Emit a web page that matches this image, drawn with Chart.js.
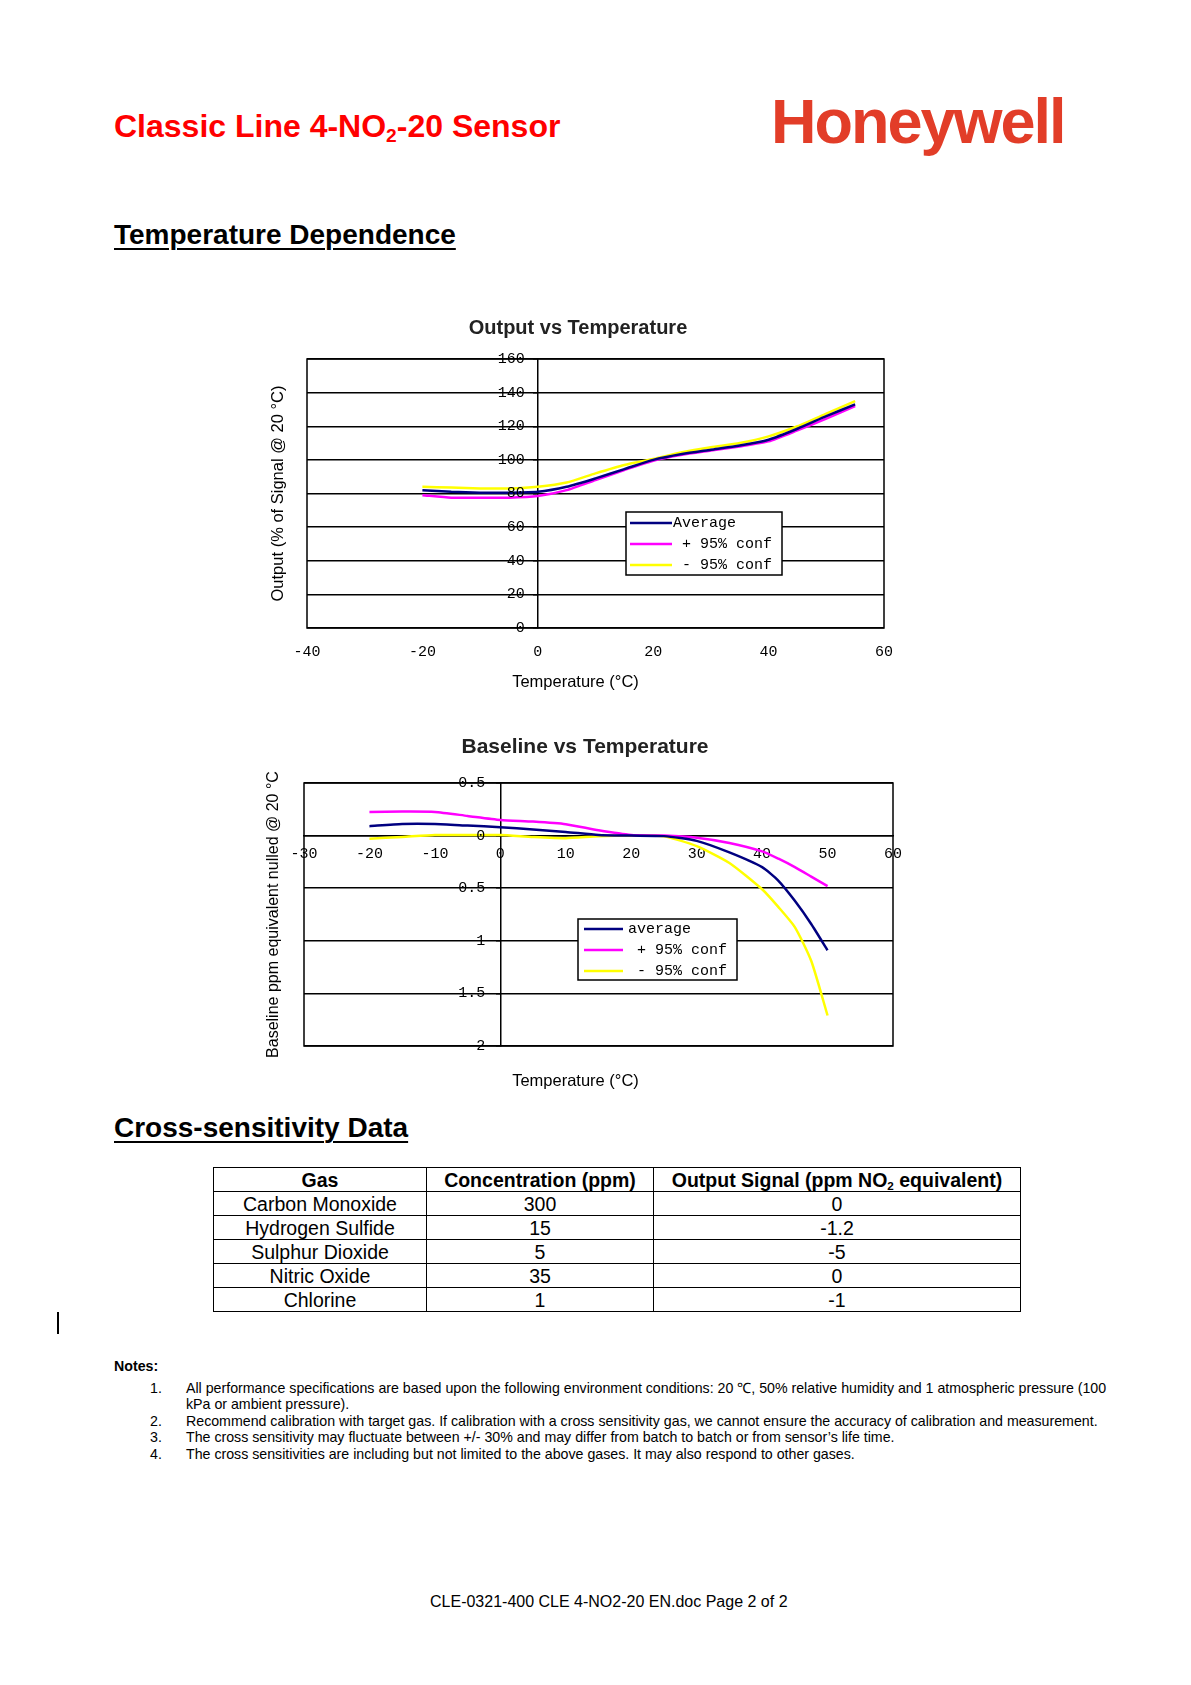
<!DOCTYPE html>
<html>
<head>
<meta charset="utf-8">
<script src="https://cdn.jsdelivr.net/npm/chart.js@4.4.1/dist/chart.umd.min.js"></script>
<style>
  body { margin: 0; background: #fff; font-family: "Liberation Sans", Arial, sans-serif; color: #000; }
  #page { position: relative; width: 1191px; height: 1685px; overflow: hidden; }
  .abs { position: absolute; white-space: nowrap; line-height: 1; }
  .h1 { left: 114px; top: 110px; font-size: 32px; font-weight: bold; color: #f00; }
  .h1 sub, th sub { font-size: 60%; vertical-align: -0.25em; line-height: 0; }
  .logo { left: 771px; top: 90px; font-size: 63px; font-weight: bold; color: #e23d28; letter-spacing: -2px; }
  .sec { left: 114px; font-size: 28px; font-weight: bold; text-decoration: underline; text-decoration-thickness: 2px; text-underline-offset: 4px; }
  .chartbox { position: absolute; }
  table { position: absolute; left: 213px; top: 1167px; border-collapse: collapse; font-size: 19.5px; }
  td, th { border: 1px solid #000; padding: 0; height: 23px; line-height: 22px; text-align: center; }
  th { font-weight: bold; }
  .notes { position: absolute; left: 114px; top: 1358px; font-size: 14.2px; line-height: 16.5px; }
  .notes ol { margin: 5px 0 0 0; padding: 0; list-style: none; }
  .notes li { position: relative; padding-left: 72px; }
  .notes li span { position: absolute; left: 36px; }
  .foot { left: 430px; top: 1594px; font-size: 16px; }
  .caret { position: absolute; left: 57px; top: 1312px; width: 1.5px; height: 22px; background: #000; }
</style>
</head>
<body>
<div id="page">
  <div class="abs h1">Classic Line 4-NO<sub>2</sub>-20 Sensor</div>
  <div class="abs logo">Honeywell</div>
  <div class="abs sec" style="top:221px">Temperature Dependence</div>

  <div class="chartbox" style="left:250px; top:310px; width:660px; height:390px"><canvas id="c1"></canvas></div>
  <div class="chartbox" style="left:250px; top:720px; width:670px; height:385px"><canvas id="c2"></canvas></div>

  <div class="abs sec" style="top:1114px">Cross-sensitivity Data</div>
  <table id="tbl">
    <colgroup><col style="width:213px"><col style="width:227px"><col style="width:367px"></colgroup>
    <thead><tr><th>Gas</th><th>Concentration (ppm)</th><th>Output Signal (ppm NO<sub>2</sub> equivalent)</th></tr></thead>
    <tbody></tbody>
  </table>
  <div class="caret"></div>

  <div class="notes">
    <b>Notes:</b>
    <ol>
      <li><span>1.</span>All performance specifications are based upon the following environment conditions: 20 ℃, 50% relative humidity and 1 atmospheric pressure (100<br>kPa or ambient pressure).</li>
      <li><span>2.</span>Recommend calibration with target gas. If calibration with a cross sensitivity gas, we cannot ensure the accuracy of calibration and measurement.</li>
      <li><span>3.</span>The cross sensitivity may fluctuate between +/- 30% and may differ from batch to batch or from sensor’s life time.</li>
      <li><span>4.</span>The cross sensitivities are including but not limited to the above gases. It may also respond to other gases.</li>
    </ol>
  </div>
  <div class="abs foot">CLE-0321-400 CLE 4-NO2-20 EN.doc Page 2 of 2</div>
</div>

<script>
// Output vs Temperature
const temps1 = [-20, -15, -10, -5, 0, 5, 10, 15, 20, 25, 30, 35, 40, 45, 50, 55];
const average1 = [82, 81, 80.5, 80.5, 81, 84, 89, 94.5, 100, 103.5, 106, 108.5, 112, 118.5, 126, 133];
const plus1 = [79, 77.5, 77.5, 77.5, 78.5, 82, 88, 94, 99.5, 103, 105.5, 108, 111, 117.5, 124.5, 132];
const minus1 = [84, 83.5, 83, 83, 84, 86.5, 92, 97, 100.5, 104.5, 107.5, 110, 114, 120, 127.5, 135];
const legend1 = ["Average", " + 95% conf", " - 95% conf"];

// Baseline vs Temperature
const temps2 = [-20, -15, -10, -5, 0, 5, 10, 15, 20, 25, 30, 35, 40, 42.5, 45, 47.5, 50];
const average2 = [0.09, 0.11, 0.11, 0.095, 0.08, 0.057, 0.035, 0.006, 0, -0.005, -0.05, -0.16, -0.3, -0.43, -0.62, -0.84, -1.09];
const plus2 = [0.225, 0.228, 0.225, 0.187, 0.149, 0.133, 0.108, 0.05, 0.006, 0, -0.02, -0.07, -0.15, -0.22, -0.3, -0.39, -0.48];
const minus2 = [-0.03, -0.013, 0.006, 0.006, 0.006, -0.013, -0.025, -0.006, 0, -0.006, -0.1, -0.26, -0.51, -0.68, -0.87, -1.19, -1.71];
const legend2 = ["average", " + 95% conf", " - 95% conf"];
const yLabels2 = ["2", "1.5", "1", "0.5", "0", "0.5"];

// Cross-sensitivity
const gases = ["Carbon Monoxide", "Hydrogen Sulfide", "Sulphur Dioxide", "Nitric Oxide", "Chlorine"];
const concentrations = ["300", "15", "5", "35", "1"];
const outputSignals = ["0", "-1.2", "-5", "0", "-1"];

const tbody = document.querySelector("#tbl tbody");
gases.forEach((g, i) => {
  const tr = document.createElement("tr");
  [g, concentrations[i], outputSignals[i]].forEach((t) => {
    const td = document.createElement("td");
    td.textContent = t;
    tr.appendChild(td);
  });
  tbody.appendChild(tr);
});

Chart.defaults.color = "#000";
Chart.defaults.font.family = "'Liberation Sans', Arial, sans-serif";

const mono = { family: "'Liberation Mono', monospace", size: 15 };
const navy = "#000080", magenta = "#ff00ff", yellow = "#ffff00";

const toPoints = (xs, ys) => xs.map((x, i) => ({ x: x, y: ys[i] }));

// box round the plot area
const framePlugin = {
  id: "frame",
  afterDraw(chart) {
    const { ctx, chartArea: a } = chart;
    ctx.save();
    ctx.strokeStyle = "#000";
    ctx.lineWidth = 1.5;
    ctx.strokeRect(a.left, a.top, a.right - a.left, a.bottom - a.top);
    ctx.restore();
  },
};

// y tick labels sitting left of the y axis drawn at x = 0
const innerYLabels = {
  id: "innerYLabels",
  afterDraw(chart, args, opts) {
    const { ctx } = chart;
    const ys = chart.scales.y;
    const axisX = chart.scales.x.getPixelForValue(0);
    ctx.save();
    ctx.font = "15px 'Liberation Mono', monospace";
    ctx.fillStyle = "#000";
    ctx.textAlign = "right";
    ctx.textBaseline = "middle";
    ys.ticks.forEach((t) => {
      ctx.fillText(t.label, axisX - opts.gap, ys.getPixelForValue(t.value));
    });
    ctx.restore();
  },
};

// x axis title, a little left of centre as in the original
const xTitle = {
  id: "xTitle",
  afterDraw(chart, args, opts) {
    const { ctx, chartArea: a } = chart;
    ctx.save();
    ctx.font = "16.5px 'Liberation Sans', Arial, sans-serif";
    ctx.fillStyle = "#000";
    ctx.textAlign = "center";
    ctx.textBaseline = "middle";
    ctx.fillText(opts.text, (a.left + a.right) / 2 + opts.dx, a.bottom + opts.dy);
    ctx.restore();
  },
};

// legend in a box inside the plot
const boxLegend = {
  id: "boxLegend",
  afterDraw(chart, args, opts) {
    const { ctx, chartArea: a } = chart;
    const x = a.left + opts.x;
    const y = a.top + opts.y;
    ctx.save();
    ctx.fillStyle = "#fff";
    ctx.fillRect(x, y, opts.w, opts.h);
    ctx.strokeStyle = "#000";
    ctx.lineWidth = 1.5;
    ctx.strokeRect(x, y, opts.w, opts.h);
    ctx.font = "15px 'Liberation Mono', monospace";
    ctx.textBaseline = "middle";
    chart.data.datasets.forEach((ds, i) => {
      const ry = y + opts.rowTop + i * opts.rowGap;
      ctx.strokeStyle = ds.borderColor;
      ctx.lineWidth = 2.5;
      ctx.beginPath();
      ctx.moveTo(x + opts.s0, ry);
      ctx.lineTo(x + opts.s1, ry);
      ctx.stroke();
      ctx.fillStyle = "#000";
      ctx.fillText(ds.label, x + opts.tx, ry);
    });
    ctx.restore();
  },
};

const titleFont = (size) => ({ size: size, weight: "bold", family: "'Liberation Sans', Arial, sans-serif" });

new Chart(document.getElementById("c1"), {
  type: "line",
  data: {
    datasets: [
      { label: legend1[0], data: toPoints(temps1, average1), borderColor: navy },
      { label: legend1[1], data: toPoints(temps1, plus1), borderColor: magenta },
      { label: legend1[2], data: toPoints(temps1, minus1), borderColor: yellow },
    ],
  },
  options: {
    responsive: true,
    maintainAspectRatio: false,
    animation: false,
    layout: { padding: { left: 22, right: 26, top: 0, bottom: 24 } },
    elements: { point: { radius: 0 }, line: { borderWidth: 2.5, tension: 0.2 } },
    plugins: {
      legend: { display: false },
      tooltip: { enabled: false },
      title: { display: true, text: "Output vs Temperature", font: titleFont(20), color: "#222", padding: { top: 6, bottom: 19 } },
      boxLegend: { x: 319, y: 153, w: 156, h: 63, s0: 4, s1: 46, tx: 47, rowTop: 11, rowGap: 21 },
      innerYLabels: { gap: 13 },
      xTitle: { text: "Temperature (°C)", dx: -20, dy: 54 },
    },
    scales: {
      x: {
        type: "linear", position: "bottom", min: -40, max: 60,
        ticks: { stepSize: 20, padding: 15, font: mono },
        grid: { display: false, drawTicks: false },
        border: { display: false },
      },
      y: {
        type: "linear", position: { x: 0 }, min: 0, max: 160,
        ticks: { stepSize: 20, display: false },
        grid: { color: "#000", lineWidth: 1.5, tickLength: 4 },
        border: { color: "#000", width: 1.5 },
      },
      yT: {
        type: "linear", position: "left", min: 0, max: 1,
        ticks: { display: false },
        grid: { display: false, drawTicks: false },
        border: { display: false },
        title: { display: true, text: "Output (% of Signal @ 20 °C)", font: { size: 16.5 }, padding: { top: -3.9, bottom: 19.1 } },
      },
    },
  },
  plugins: [framePlugin, innerYLabels, xTitle, boxLegend],
});

new Chart(document.getElementById("c2"), {
  type: "line",
  data: {
    datasets: [
      { label: legend2[0], data: toPoints(temps2, average2), borderColor: navy },
      { label: legend2[1], data: toPoints(temps2, plus2), borderColor: magenta },
      { label: legend2[2], data: toPoints(temps2, minus2), borderColor: yellow },
    ],
  },
  options: {
    responsive: true,
    maintainAspectRatio: false,
    animation: false,
    layout: { padding: { left: 27, right: 27, top: 0, bottom: 59 } },
    elements: { point: { radius: 0 }, line: { borderWidth: 2.5, tension: 0.2 } },
    plugins: {
      legend: { display: false },
      tooltip: { enabled: false },
      title: { display: true, text: "Baseline vs Temperature", font: titleFont(21), color: "#222", padding: { top: 14.4, bottom: 23.4 } },
      boxLegend: { x: 274, y: 136, w: 159, h: 61, s0: 6, s1: 45, tx: 50, rowTop: 10, rowGap: 21 },
      innerYLabels: { gap: 15 },
      xTitle: { text: "Temperature (°C)", dx: -23, dy: 35 },
    },
    scales: {
      x: {
        type: "linear", position: { y: 0 }, min: -30, max: 60,
        ticks: { stepSize: 10, padding: 9, font: mono },
        grid: { display: false, drawTicks: false },
        border: { color: "#000", width: 1.5 },
      },
      y: {
        type: "linear", position: { x: 0 }, min: -2, max: 0.5,
        ticks: { stepSize: 0.5, display: false, callback: (v, i) => yLabels2[i] },
        grid: { color: "#000", lineWidth: 1.5, tickLength: 4 },
        border: { color: "#000", width: 1.5 },
      },
      yT: {
        type: "linear", position: "left", min: 0, max: 1,
        ticks: { display: false },
        grid: { display: false, drawTicks: false },
        border: { display: false },
        title: { display: true, text: "Baseline ppm equivalent nulled @ 20 °C", font: { size: 16 }, padding: { top: -12.6, bottom: 20.4 } },
      },
    },
  },
  plugins: [framePlugin, innerYLabels, xTitle, boxLegend],
});
</script>
</body>
</html>
